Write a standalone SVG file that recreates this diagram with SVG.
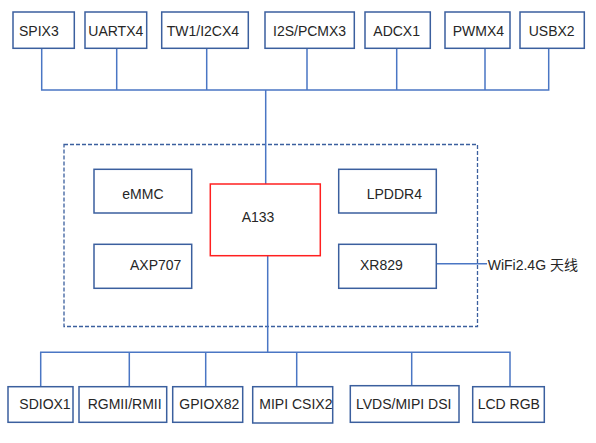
<svg xmlns="http://www.w3.org/2000/svg" width="596" height="443" viewBox="0 0 596 443">
<style>
.box{fill:#fff;stroke:#3b5f9e;stroke-width:1.5}
.cpu{fill:#fff;stroke:#ff2020;stroke-width:1.5}
.frame{fill:none;stroke:#3b5f9e;stroke-width:1.3;stroke-dasharray:4 2}
.ln{fill:none;stroke:#4a76c4;stroke-width:1.5}
text{font-family:"Liberation Sans","Noto Sans CJK SC",sans-serif;font-size:14px;fill:#262626}
</style>
<rect width="596" height="443" fill="#fff"/>
<rect class="frame" x="64" y="144.5" width="413.5" height="182"/>
<g id="connectors">
<path class="ln" d="M41.7 48.3V90H548.7V48.3M116.7 48.3V90M206.7 48.3V90M307 48.3V90M396.7 48.3V90M485 48.3V90M265.7 90V184"/>
<path class="ln" d="M267.7 255.7V352.3M40.7 386.7V352.3H510V386.7M129.3 352.3V386.7M205.7 352.3V386.7M296.7 352.3V386.7M411.7 352.3V385.7"/>
<path class="ln" d="M436.3 263.7H487"/>
</g>
<g id="spi"><rect class="box" x="13" y="12" width="61.3" height="36.3"/><text x="19" y="35.5">SPIX3</text></g>
<g id="uart"><rect class="box" x="85" y="12" width="61.7" height="36.3"/><text x="88.3" y="35.5">UARTX4</text></g>
<g id="twi"><rect class="box" x="161.7" y="12" width="86.6" height="36.3"/><text x="166.7" y="35.5">TW1/I2CX4</text></g>
<g id="i2s"><rect class="box" x="265" y="12" width="89.3" height="36.3"/><text x="273" y="35.5">I2S/PCMX3</text></g>
<g id="adc"><rect class="box" x="365" y="12" width="65.3" height="36.3"/><text x="373.3" y="35.5">ADCX1</text></g>
<g id="pwm"><rect class="box" x="445" y="12" width="65" height="36.3"/><text x="452.7" y="35.5">PWMX4</text></g>
<g id="usb"><rect class="box" x="520" y="12" width="64.3" height="36.3"/><text x="528.7" y="35.5">USBX2</text></g>
<g id="emmc"><rect class="box" x="94" y="169.3" width="97.7" height="43.7"/><text x="122.3" y="198.5">eMMC</text></g>
<g id="axp"><rect class="box" x="94" y="244.3" width="97.7" height="44"/><text x="130" y="269.5">AXP707</text></g>
<g id="a133"><rect class="cpu" x="210.3" y="184" width="110" height="71.7"/><text x="241.7" y="222">A133</text></g>
<g id="lpddr"><rect class="box" x="338.7" y="169.3" width="97.6" height="43.7"/><text x="366.7" y="198.5">LPDDR4</text></g>
<g id="xr829"><rect class="box" x="338.7" y="244.3" width="97.6" height="44"/><text x="360" y="269.5">XR829</text></g>
<g id="wifi"><text x="487.7" y="269.5">WiFi2.4G 天线</text></g>
<g id="sdio"><rect class="box" x="8" y="386.7" width="65" height="35.6"/><text x="19.3" y="408.5">SDIOX1</text></g>
<g id="rgmii"><rect class="box" x="79" y="386.7" width="87.7" height="35.6"/><text x="87.7" y="408.5">RGMII/RMII</text></g>
<g id="gpio"><rect class="box" x="172.7" y="386.7" width="70" height="35.6"/><text x="179.3" y="408.5">GPIOX82</text></g>
<g id="csi"><rect class="box" x="252.7" y="386.7" width="80" height="36.3"/><text x="259.3" y="408.5">MIPI CSIX2</text></g>
<g id="dsi"><rect class="box" x="350.3" y="385.7" width="108.7" height="36.6"/><text x="356" y="408.5">LVDS/MIPI DSI</text></g>
<g id="lcd"><rect class="box" x="472.7" y="386.7" width="71.6" height="35.6"/><text x="477.7" y="408.5">LCD RGB</text></g>
</svg>
